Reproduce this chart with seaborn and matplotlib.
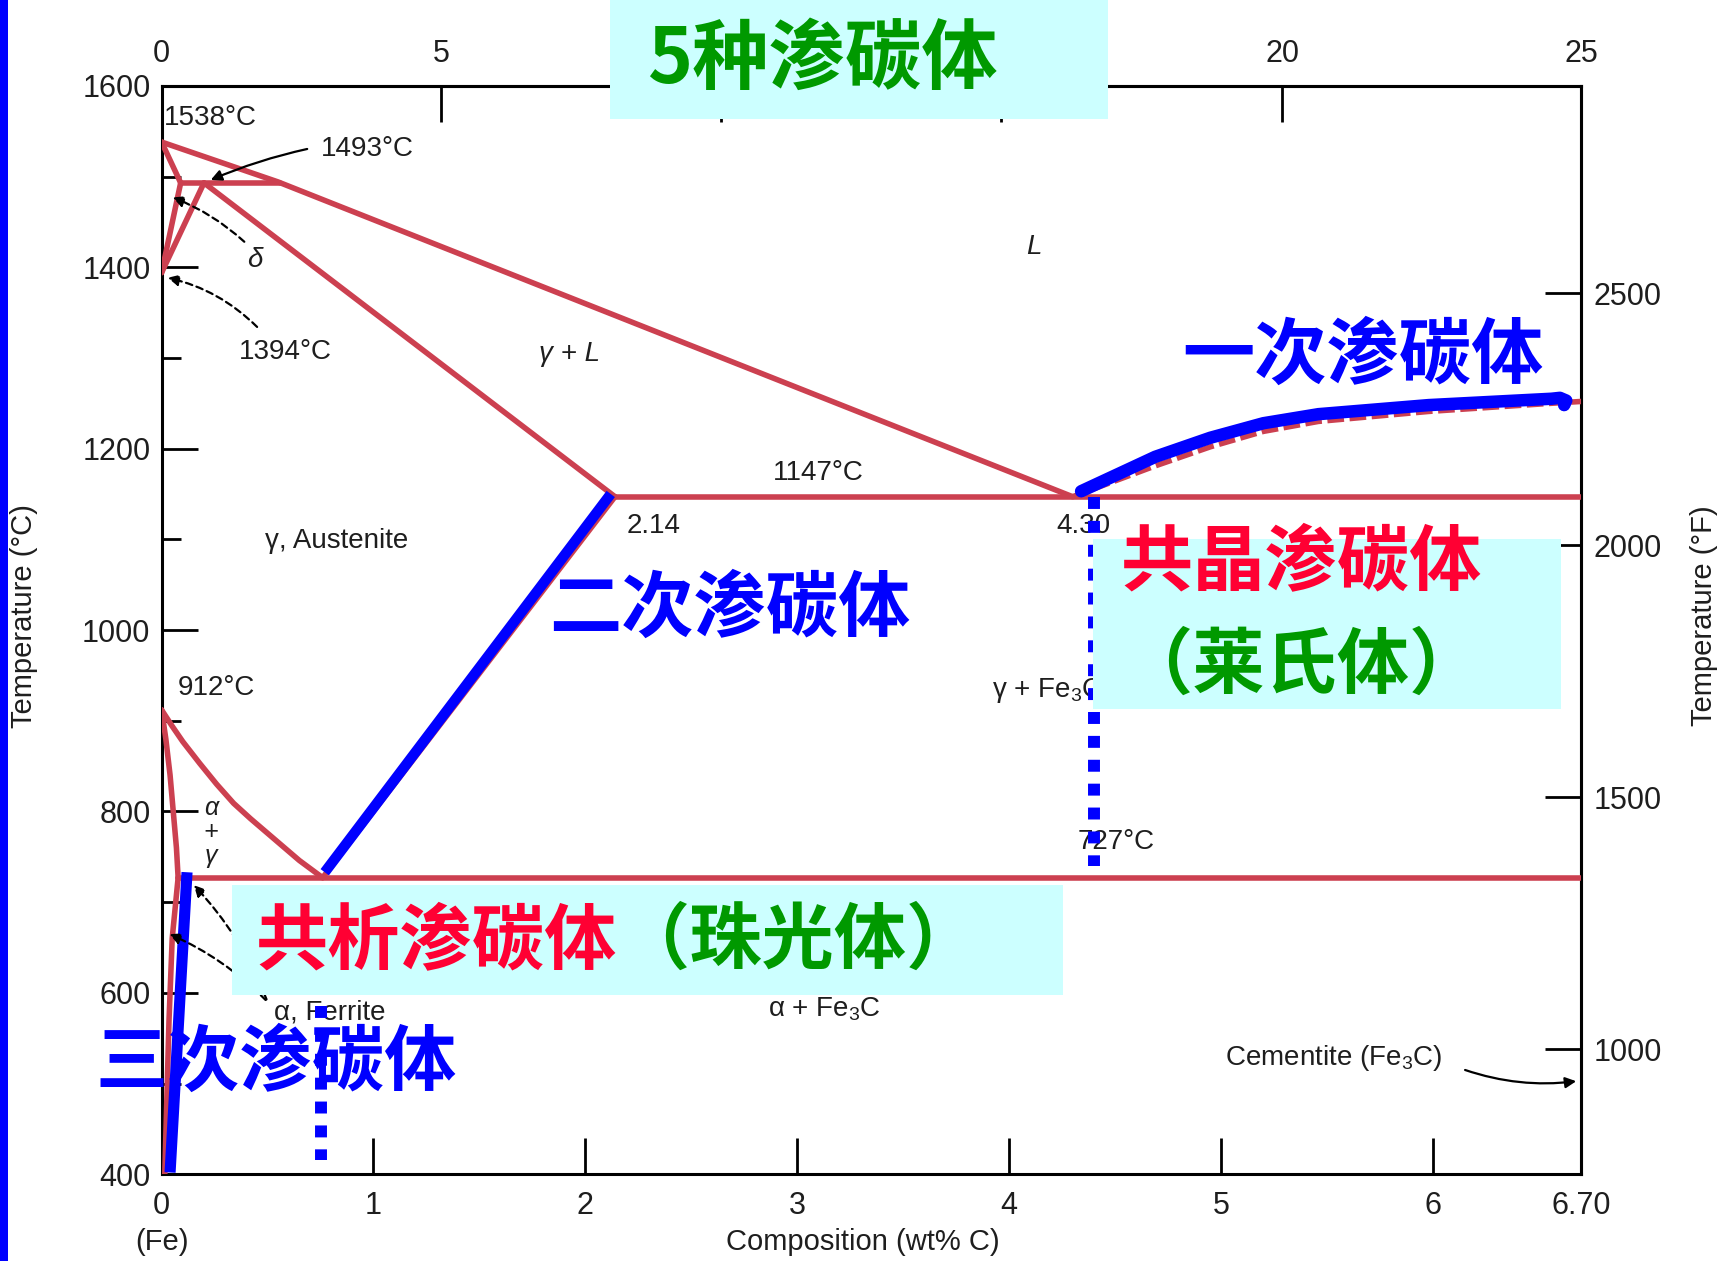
import numpy as np
import matplotlib
matplotlib.use("Agg")
import matplotlib.pyplot as plt
from matplotlib.patches import Rectangle
from matplotlib.ticker import MultipleLocator
import seaborn as sns

# ---------------- Fe–Fe3C phase boundaries (wt% C, °C) ----------------
liquidus_c = [0.0, 0.55, 4.30]
liquidus_t = [1538, 1494, 1147]
delta_solidus_c = [0.0, 0.09]
delta_solidus_t = [1538, 1493]
delta_solvus_c = [0.09, 0.0]
delta_solvus_t = [1493, 1394]
gamma_delta_c = [0.20, 0.0]
gamma_delta_t = [1493, 1394]
peritectic_c = [0.09, 0.56]
peritectic_t = [1493, 1493]
gamma_solidus_c = [0.20, 2.14]
gamma_solidus_t = [1493, 1147]
eutectic_c = [2.14, 6.70]
eutectic_t = [1147, 1147]
fe3c_liquidus_c = [4.30, 4.69, 4.95, 5.20, 5.46, 5.98, 6.56, 6.70]
fe3c_liquidus_t = [1147, 1181, 1202, 1219, 1230, 1241, 1250, 1252]
a3_c = [0.0, 0.05, 0.10, 0.18, 0.26, 0.34, 0.42, 0.50, 0.58, 0.65, 0.76]
a3_t = [912, 894, 877, 853, 830, 809, 792, 776, 760, 746, 727]
acm_c = [0.76, 2.14]
acm_t = [727, 1147]
alpha_c = [0.0, 0.02, 0.04, 0.055, 0.07, 0.078]
alpha_t = [912, 880, 840, 800, 760, 727]
alpha_solvus_c = [0.078, 0.05, 0.035, 0.015]
alpha_solvus_t = [727, 660, 570, 400]
eutectoid_c = [0.078, 6.70]
eutectoid_t = [727, 727]

# ---------------- highlighted cementite lines ----------------
primary_c = [4.34, 4.69, 4.95, 5.20, 5.46, 5.98, 6.56, 6.60, 6.63, 6.62]
primary_t = [1153, 1191, 1212, 1228, 1238, 1248, 1255, 1256, 1253, 1248]
secondary_c = [0.77, 2.12]
secondary_t = [733, 1150]
tertiary_c = [0.12, 0.04]
tertiary_t = [733, 402]
eutectic_mark_c = [4.40, 4.40]
eutectic_mark_t = [1147, 740]
eutectoid_mark_c = [0.753, 0.753]
eutectoid_mark_t = [585, 416]

# ---------------- axis ticks ----------------
bottom_ticks = [0, 1, 2, 3, 4, 5, 6, 6.70]
bottom_labels = ["0", "1", "2", "3", "4", "5", "6", "6.70"]
# at% C scale along the top; 10 and 15 sit under the title panel
top_ticks = [0, 1.32, 2.64, 3.96, 5.29, 6.70]
top_labels = ["0", "5", "", "", "20", "25"]
left_ticks = [400, 600, 800, 1000, 1200, 1400, 1600]
right_ticks = [1000, 1500, 2000, 2500]

RED_LINE = "#CC4050"
BLUE = "#0000FF"
RED_TXT = "#FF0033"
GREEN = "#009900"
CYAN = "#CCFFFF"
INK = "#1e1e1e"

sns.set_theme(style="ticks")
plt.rcParams["font.family"] = ["Liberation Sans", "Noto Sans CJK SC", "DejaVu Sans"]
plt.rcParams["mathtext.fontset"] = "custom"
plt.rcParams["mathtext.rm"] = "Liberation Sans"
plt.rcParams["mathtext.it"] = "Liberation Sans:italic"
CJK = ["Noto Sans CJK SC", "DejaVu Sans"]

W, H = 1724, 1261
fig = plt.figure(figsize=(W / 100, H / 100), dpi=100)
fig.patch.set_facecolor("white")
L, R, T, B = 161.6, 1581.1, 85.8, 1174.3
ax = fig.add_axes([L / W, 1 - B / H, (R - L) / W, (B - T) / H])


def fx(px):
    return px / W


def fy(py):
    return 1 - py / H


def draw(c, t, color=RED_LINE, lw=4, z=3, **kw):
    sns.lineplot(x=c, y=t, sort=False, estimator=None, ax=ax, color=color,
                 linewidth=lw, zorder=z, legend=False, **kw)


# phase boundaries
for c, t in [(liquidus_c, liquidus_t), (delta_solidus_c, delta_solidus_t),
             (delta_solvus_c, delta_solvus_t), (gamma_delta_c, gamma_delta_t),
             (peritectic_c, peritectic_t), (gamma_solidus_c, gamma_solidus_t),
             (eutectic_c, eutectic_t), (a3_c, a3_t), (acm_c, acm_t),
             (alpha_c, alpha_t), (alpha_solvus_c, alpha_solvus_t),
             (eutectoid_c, eutectoid_t)]:
    draw(c, t, solid_joinstyle="round")
draw(fe3c_liquidus_c, fe3c_liquidus_t, linestyle=(0, (3, 1)))

# cementite highlights
draw(primary_c, primary_t, color=BLUE, lw=9, z=4, solid_capstyle="round",
     solid_joinstyle="round")
draw(secondary_c, secondary_t, color=BLUE, lw=7.5, z=4, solid_capstyle="butt")
draw(tertiary_c, tertiary_t, color=BLUE, lw=8, z=4, solid_capstyle="butt")
draw(eutectic_mark_c, eutectic_mark_t, color=BLUE, lw=8.6, z=6,
     linestyle=(0, (1, 1)), dash_capstyle="butt")
draw(eutectoid_mark_c, eutectoid_mark_t, color=BLUE, lw=8.6, z=6,
     linestyle=(0, (1, 1)), dash_capstyle="butt")

# axes
ax.set_xlim(0, 6.70)
ax.set_ylim(400, 1600)
ax.set_xticks(bottom_ticks, labels=bottom_labels)
ax.set_yticks(left_ticks)
ax.yaxis.set_minor_locator(MultipleLocator(100))
ax.tick_params(axis="both", which="major", direction="in", length=26, width=2,
               labelsize=22, labelcolor=INK, color="black",
               bottom=True, left=True, top=False, right=False)
ax.tick_params(axis="x", pad=12)
ax.tick_params(axis="y", pad=8)
ax.tick_params(axis="y", which="minor", direction="in", length=14, width=2,
               left=True, right=False, color="black")
for s in ax.spines.values():
    s.set_color("black")
    s.set_linewidth(2.2)
ax.grid(False)

top = ax.secondary_xaxis("top")
top.set_xticks(top_ticks, labels=top_labels)
top.tick_params(direction="in", length=26, width=2, labelsize=22, pad=12,
                labelcolor=INK, color="black")
top.spines["top"].set_linewidth(2.2)


def c2f(t):
    return np.asarray(t) * 9 / 5 + 32


def f2c(t):
    return (np.asarray(t) - 32) * 5 / 9


right = ax.secondary_yaxis("right", functions=(c2f, f2c))
right.set_yticks(right_ticks)
right.tick_params(direction="in", length=26, width=2, labelsize=22, pad=9,
                  labelcolor=INK, color="black")
right.spines["right"].set_linewidth(2.2)

ax.set_ylabel("Temperature (°C)", fontsize=21, color=INK, ha="center", va="center")
ax.yaxis.set_label_coords(-0.097, 0.513)
right.set_ylabel("Temperature (°F)", fontsize=21, color=INK, ha="center",
                 va="center", rotation=90)
right.yaxis.set_label_coords(1.0866, 0.513, transform=ax.transAxes)
ax.set_xlabel("Composition (wt% C)", fontsize=21, color=INK, va="center")
ax.xaxis.set_label_coords(0.494, -0.062)
ax.text(0, -0.062, "(Fe)", transform=ax.get_xaxis_transform(), fontsize=21,
        color=INK, ha="center", va="center")

# phase-field and point labels
lab = dict(fontsize=20, color=INK, va="center", zorder=5)
ax.text(0.01, 1565, "1538°C", ha="left", **lab)
ax.text(0.752, 1530, "1493°C", ha="left", **lab)
ax.text(0.44, 1408, "δ", ha="center", style="italic", **lab)
ax.text(0.363, 1307, "1394°C", ha="left", **lab)
ax.text(1.925, 1304, "γ + L", ha="center", style="italic", **lab)
ax.text(4.115, 1422, "L", ha="center", style="italic", **lab)
ax.text(3.10, 1173, "1147°C", ha="center", **lab)
ax.text(2.32, 1115, "2.14", ha="center", **lab)
ax.text(4.35, 1115, "4.30", ha="center", **lab)
ax.text(0.825, 1098, "γ, Austenite", ha="center", **lab)
ax.text(0.26, 936, "912°C", ha="center", **lab)
ax.text(0.233, 777, "α\n+\nγ", ha="center", linespacing=1.0, style="italic",
        fontsize=18, color=INK, va="center", zorder=5)
ax.text(4.504, 766, "727°C", ha="center", **lab)
ax.text(3.92, 933, "γ + Fe$_3$C", ha="left", **lab)
ax.text(0.795, 578, "α, Ferrite", ha="center", **lab)
ax.text(3.13, 582, "α + Fe$_3$C", ha="center", **lab)
ax.text(5.53, 528.5, "Cementite (Fe$_3$C)", ha="center", **lab)

arrow = dict(arrowstyle="-|>", color="black", lw=1.6, mutation_scale=16)
dashed = dict(arrow, linestyle=(0, (3, 2)))
ax.annotate("", xy=(0.22, 1495), xytext=(0.70, 1531),
            arrowprops=dict(arrow, connectionstyle="arc3,rad=0.05"), zorder=5)
ax.annotate("", xy=(0.04, 1478), xytext=(0.40, 1426),
            arrowprops=dict(dashed, connectionstyle="arc3,rad=0.1"), zorder=5)
ax.annotate("", xy=(0.016, 1389), xytext=(0.46, 1332),
            arrowprops=dict(dashed, connectionstyle="arc3,rad=0.15"), zorder=5)
ax.annotate("", xy=(0.143, 721), xytext=(0.50, 590),
            arrowprops=dict(dashed, connectionstyle="arc3,rad=0.1"), zorder=5)
ax.annotate("", xy=(0.025, 666), xytext=(0.50, 590),
            arrowprops=dict(dashed, connectionstyle="arc3,rad=0.1"), zorder=5)
ax.annotate("", xy=(6.69, 503), xytext=(6.14, 516),
            arrowprops=dict(arrow, connectionstyle="arc3,rad=0.12"), zorder=5)

# highlight panels and Chinese captions
for x0, y0, x1, y1 in [(610, 0, 1108, 119), (232, 885, 1063, 995),
                       (1093, 539, 1561, 709)]:
    fig.add_artist(Rectangle((fx(x0), fy(y1)), fx(x1 - x0), (y1 - y0) / H,
                             transform=fig.transFigure, facecolor=CYAN,
                             edgecolor="none", zorder=10))

cap = dict(family=CJK, weight="bold", fontsize=52, va="center", zorder=11)
fig.text(fx(822), fy(60), "5种渗碳体", color=GREEN, ha="center", **dict(cap, fontsize=55))
fig.text(fx(1363), fy(357), "一次渗碳体", color=BLUE, ha="center", **cap)
fig.text(fx(730), fy(610), "二次渗碳体", color=BLUE, ha="center", **cap)
fig.text(fx(276), fy(1064), "三次渗碳体", color=BLUE, ha="center", **cap)
fig.text(fx(256), fy(942), "共析渗碳体", color=RED_TXT, ha="left", **cap)
fig.text(fx(256 + 5 * 72.2), fy(942), "（珠光体）", color=GREEN, ha="left", **cap)
fig.text(fx(1301), fy(563), "共晶渗碳体", color=RED_TXT, ha="center", **cap)
fig.text(fx(1301), fy(667), "（莱氏体）", color=GREEN, ha="center", **cap)

# slide border on the left edge
fig.add_artist(Rectangle((0, 0), fx(8), 1, transform=fig.transFigure,
                         facecolor=BLUE, edgecolor="none", zorder=12))

fig.savefig("out.png", dpi=100, facecolor="white")
